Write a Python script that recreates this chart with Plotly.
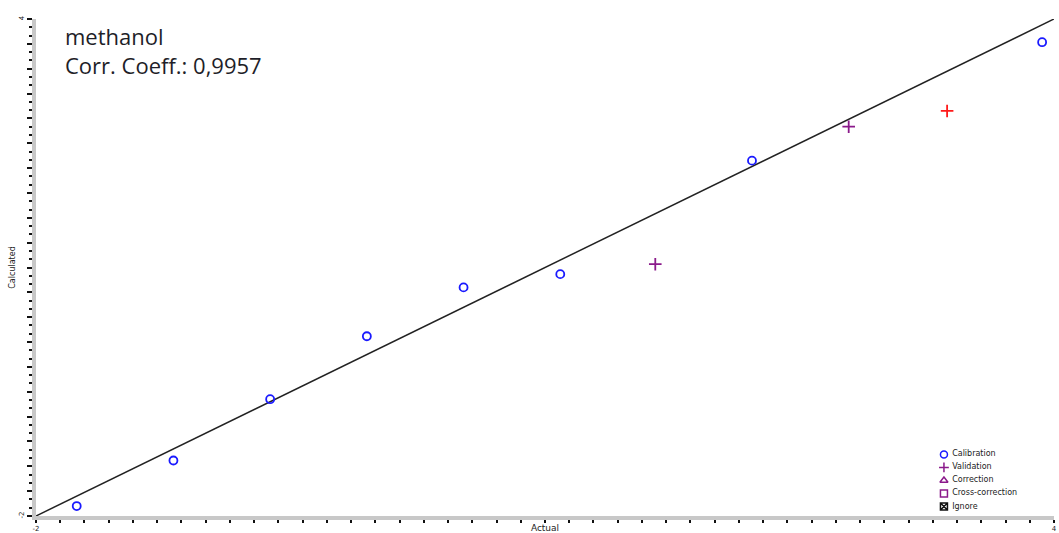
import numpy as np
import plotly.graph_objects as go

# Calibration samples (actual vs calculated)
cal_actual = [-1.76, -1.19, -0.62, -0.05, 0.52, 1.09, 2.22, 3.93]
cal_calc = [-1.88, -1.33, -0.59, 0.17, 0.76, 0.92, 2.29, 3.72]

# Validation samples
val_actual = [1.65, 2.79]
val_calc = [1.04, 2.70]

# Flagged validation sample
flag_actual = [3.37]
flag_calc = [2.89]

# Ideal fit line end points
line_x = [-2, 4]
line_y = [-2, 4]

x_range = [-2, 4]
y_range = [-2, 4]
x_tick_labels = ["-2", "4"]
y_tick_labels = ["-2", "4"]

# Key entries shown in the lower right corner
key_labels = ["Calibration", "Validation", "Correction", "Cross-correction", "Ignore"]
key_symbols = ["circle-open", "cross-thin-open", "triangle-up-open",
               "square-open", "square-x-open"]

blue = "#1a1aff"
purple = "#8b1a8b"
red = "#ff1a1a"
key_colors = [blue, purple, purple, purple, "#111111"]

fig = go.Figure()

fig.add_trace(go.Scatter(
    x=line_x, y=line_y, mode="lines",
    line=dict(color="#222222", width=1.5),
    showlegend=False, hoverinfo="skip"))

fig.add_trace(go.Scatter(
    x=cal_actual, y=cal_calc, mode="markers", name="Calibration",
    showlegend=False,
    marker=dict(symbol="circle-open", size=8, color=blue,
                line=dict(width=1.8, color=blue))))

fig.add_trace(go.Scatter(
    x=val_actual, y=val_calc, mode="markers", name="Validation",
    showlegend=False,
    marker=dict(symbol="cross-thin-open", size=9, color=purple,
                line=dict(width=1.8, color=purple))))

fig.add_trace(go.Scatter(
    x=flag_actual, y=flag_calc, mode="markers", showlegend=False,
    marker=dict(symbol="cross-thin-open", size=9, color=red,
                line=dict(width=1.8, color=red))))

# Symbol key on its own small axis pair
key_rows = list(range(len(key_labels) - 1, -1, -1))
fig.add_trace(go.Scatter(
    x=[0.6] * len(key_labels), y=key_rows, mode="markers",
    marker=dict(symbol=key_symbols, size=7, color=key_colors,
                line=dict(width=1.5, color=key_colors)),
    xaxis="x2", yaxis="y2", showlegend=False, hoverinfo="skip",
    cliponaxis=False))
fig.add_trace(go.Scatter(
    x=[1.3] * len(key_labels), y=key_rows, mode="text",
    text=key_labels, textposition="middle right",
    textfont=dict(family="DejaVu Sans", size=8, color="#222222"),
    xaxis="x2", yaxis="y2", showlegend=False, hoverinfo="skip",
    cliponaxis=False))

x_ticks = np.linspace(x_range[0], x_range[1], 43)
x_text = [x_tick_labels[0]] + [""] * 41 + [x_tick_labels[1]]
y_ticks = np.linspace(y_range[0], y_range[1], 21)
y_text = [y_tick_labels[0]] + [""] * 19 + [y_tick_labels[1]]

axis_font = dict(family="DejaVu Sans", size=9, color="#222222")
tick_font = dict(family="DejaVu Sans", size=7, color="#222222")

fig.add_annotation(
    xref="paper", yref="paper", x=0.027, y=1.0,
    xanchor="left", yanchor="top", align="left", showarrow=False,
    text="methanol<br>Corr. Coeff.: 0,9957",
    font=dict(family="Open Sans", size=22, color="#1e1e28"))

fig.update_layout(
    width=1059, height=533,
    margin=dict(l=36, r=5, t=19, b=17),
    paper_bgcolor="white", plot_bgcolor="white",
    xaxis=dict(
        range=x_range, showgrid=False, zeroline=False, automargin=False,
        showline=True, linecolor="#c8c8c8", linewidth=4,
        tickmode="array", tickvals=x_ticks, ticktext=x_text,
        ticks="outside", ticklen=3, tickwidth=2, tickcolor="#111111",
        tickfont=tick_font,
        title=dict(text="Actual", standoff=0, font=axis_font)),
    yaxis=dict(
        range=y_range, showgrid=False, zeroline=False, automargin=False,
        showline=True, linecolor="#c8c8c8", linewidth=4,
        tickmode="array", tickvals=y_ticks, ticktext=y_text,
        ticks="outside", ticklen=5, tickwidth=2, tickcolor="#111111",
        tickangle=-90, tickfont=tick_font,
        minor=dict(dtick=0.1, tick0=-2, ticks="outside", ticklen=3,
                   tickwidth=1.5, tickcolor="#111111"),
        title=dict(text="Calculated", standoff=2,
                   font=dict(family="DejaVu Sans", size=8, color="#222222"))),
    xaxis2=dict(domain=[0.885, 1.0], range=[0, 10], visible=False,
                anchor="y2", fixedrange=True),
    yaxis2=dict(domain=[0.006, 0.137], range=[-0.5, 4.5], visible=False,
                anchor="x2", fixedrange=True),
)

fig.write_html("out.html")
